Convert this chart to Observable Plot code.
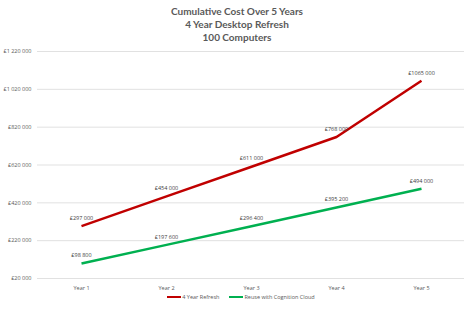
<!DOCTYPE html>
<html>
<head>
<meta charset="utf-8">
<script src="https://cdn.jsdelivr.net/npm/d3@7"></script>
<script src="https://cdn.jsdelivr.net/npm/@observablehq/plot@0.6"></script>
<style>
  body { margin: 0; background: #fff; font-family: "Open Sans", "Liberation Sans", sans-serif; }
  #wrap { position: relative; width: 474px; height: 309px; overflow: hidden; }
  #title { position: absolute; top: 5px; left: 0; width: 474px; text-align: center; font-family: Lato, "Open Sans", sans-serif; font-weight: bold; font-size: 10px; line-height: 13px; color: #595959; }
  #chart { position: absolute; top: 44px; left: 0; }
  #legend { position: absolute; top: 293px; left: 4px; width: 474px; display: flex; justify-content: center; gap: 10px; font-size: 5.5px; color: #595959; align-items: center; }
  .item { display: flex; align-items: center; }
  .sw { display: inline-block; width: 14px; height: 2.5px; margin-right: 1px; }
</style>
</head>
<body>
<div id="wrap">
  <div id="title">Cumulative Cost Over 5 Years<br>4 Year Desktop Refresh<br>100 Computers</div>
  <div id="chart"></div>
  <div id="legend"></div>
</div>
<script>
const years = ["Year 1", "Year 2", "Year 3", "Year 4", "Year 5"];
const refreshValues = [297000, 454000, 611000, 768000, 1065000];
const refreshLabels = ["£297 000", "£454 000", "£611 000", "£768 000", "£1065 000"];
const reuseValues = [98800, 197600, 296400, 395200, 494000];
const reuseLabels = ["£98 800", "£197 600", "£296 400", "£395 200", "£494 000"];
const yTicks = [20000, 220000, 420000, 620000, 820000, 1020000, 1220000];
const seriesNames = ["4 Year Refresh", "Reuse with Cognition Cloud"];
const seriesColors = ["#C00000", "#00B050"];

const data = [];
years.forEach((y, i) => {
  data.push({year: y, value: refreshValues[i], label: refreshLabels[i], series: seriesNames[0]});
});
years.forEach((y, i) => {
  data.push({year: y, value: reuseValues[i], label: reuseLabels[i], series: seriesNames[1]});
});

const loc = d3.formatLocale({decimal: ".", thousands: " ", grouping: [3], currency: ["£", ""]});
const fmt = loc.format("$,");

const chart = Plot.plot({
  width: 474,
  height: 250,
  marginLeft: 37,
  marginRight: 10,
  marginTop: 7,
  marginBottom: 16,
  style: {fontFamily: "'Open Sans', 'Liberation Sans', sans-serif", fontSize: "5.5px", color: "#595959", background: "transparent"},
  x: {type: "point", domain: years, padding: 0.5, label: null},
  y: {domain: [20000, 1220000], ticks: yTicks, label: null},
  color: {domain: seriesNames, range: seriesColors},
  marks: [
    Plot.gridY(yTicks, {stroke: "#d9d9d9", strokeOpacity: 1, strokeWidth: 0.8}),
    Plot.axisY({ticks: yTicks, tickSize: 0, tickPadding: 6, tickFormat: fmt, label: null, fill: "#595959"}),
    Plot.axisX({tickSize: 0, tickPadding: 8, label: null, fill: "#595959"}),
    Plot.line(data, {x: "year", y: "value", z: "series", stroke: "series", strokeWidth: 2.5, strokeLinecap: "butt"}),
    Plot.text(data, {x: "year", y: "value", text: "label", dy: -8, fill: "#404040"})
  ]
});
document.getElementById("chart").appendChild(chart);

const legend = document.getElementById("legend");
seriesNames.forEach((n, i) => {
  const it = document.createElement("div");
  it.className = "item";
  const sw = document.createElement("span");
  sw.className = "sw";
  sw.style.background = seriesColors[i];
  it.appendChild(sw);
  it.appendChild(document.createTextNode(n));
  legend.appendChild(it);
});
</script>
</body>
</html>
